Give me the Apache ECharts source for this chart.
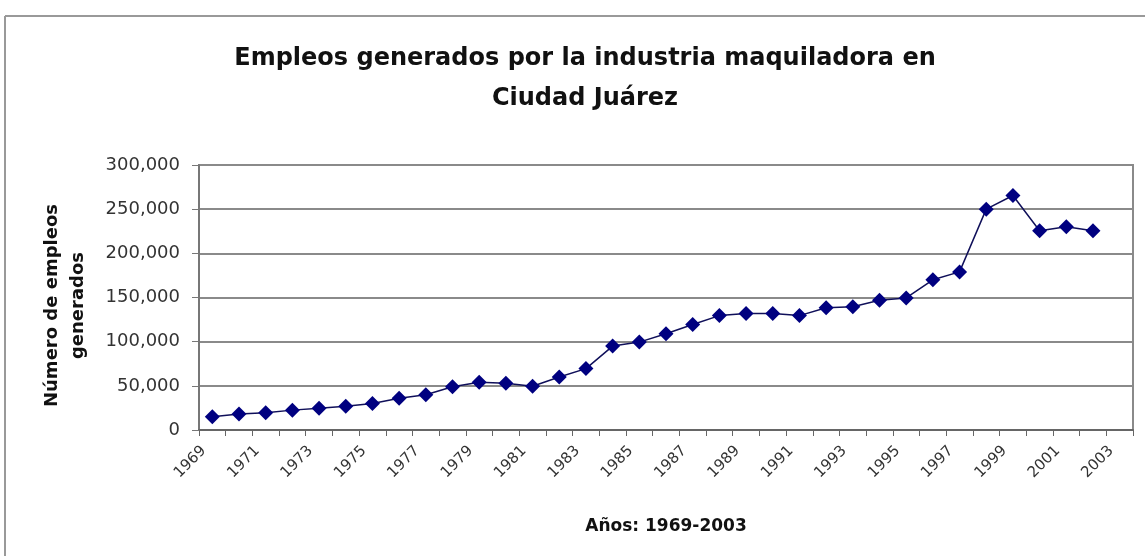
<!DOCTYPE html>
<html>
<head>
<meta charset="utf-8">
<script src="https://cdn.jsdelivr.net/npm/echarts@6/dist/echarts.min.js"></script>
<style>html,body{margin:0;padding:0;background:#fff}#c{width:1145px;height:556px}</style>
</head>
<body>
<div id="c"></div>
<script>
const years = ['1969','1970','1971','1972','1973','1974','1975','1976','1977','1978','1979','1980','1981','1982','1983','1984','1985','1986','1987','1988','1989','1990','1991','1992','1993','1994','1995','1996','1997','1998','1999','2000','2001','2002','2003'];
const empleos = [15000,18000,19500,22500,24500,27000,30000,36000,40000,49000,54000,53000,49500,60000,69500,95000,99500,109000,119500,129500,132000,132000,129500,138500,139500,147000,149500,170000,179000,250000,265500,225500,230000,225500,null];
const yTicks = [0,50000,100000,150000,200000,250000,300000];

const chart = echarts.init(document.getElementById('c'), null, {renderer:'canvas'});
const F = 'DejaVu Sans';
chart.setOption({
  animation:false,
  backgroundColor:'#fff',
  title:{
    text:'Empleos generados por la industria maquiladora en\nCiudad Juárez',
    left:580, textAlign:'center', top:34,
    textStyle:{fontFamily:F, fontWeight:'bold', fontSize:24, color:'#111', lineHeight:40}
  },
  graphic:[
    {type:'line', shape:{x1:5,y1:16,x2:1145,y2:16}, style:{stroke:'#999',lineWidth:2}},
    {type:'line', shape:{x1:5,y1:16,x2:5,y2:556}, style:{stroke:'#999',lineWidth:2}}
  ],
  grid:{left:199, right:12, top:165, bottom:126, show:true, borderColor:'#8a8a8a', borderWidth:2, backgroundColor:'transparent'},
  xAxis:{
    type:'category', data:years, boundaryGap:true,
    name:'Años: 1969-2003', nameLocation:'middle', nameGap:88,
    nameTextStyle:{fontFamily:F, fontWeight:'bold', fontSize:17, color:'#111'},
    axisLine:{lineStyle:{color:'#666', width:2}},
    axisTick:{show:true, interval:0, length:6, inside:false, lineStyle:{color:'#666', width:1}},
    axisLabel:{interval:1, rotate:45, fontFamily:F, fontSize:15, color:'#333', margin:10, padding:[0,12,0,0]}
  },
  yAxis:{
    type:'value', min:yTicks[0], max:yTicks[yTicks.length-1], interval:50000,
    name:'Número de empleos\ngenerados', nameLocation:'middle', nameGap:108, nameRotate:90,
    nameTextStyle:{fontFamily:F, fontWeight:'bold', fontSize:18, color:'#111', lineHeight:26, padding:[0,16,0,0]},
    axisLine:{show:true, lineStyle:{color:'#777', width:2}},
    axisTick:{show:true, length:7, lineStyle:{color:'#777'}},
    axisLabel:{fontFamily:F, fontSize:18, color:'#333', margin:19,
      formatter:v=>v.toLocaleString('en-US')},
    splitLine:{show:true, lineStyle:{color:'#8a8a8a', width:2}}
  },
  series:[{
    type:'line', data:empleos, connectNulls:false,
    symbol:'diamond', symbolSize:15,
    lineStyle:{color:'#10105a', width:1.5},
    itemStyle:{color:'#000080', borderWidth:0}
  }]
});
</script>
</body>
</html>
